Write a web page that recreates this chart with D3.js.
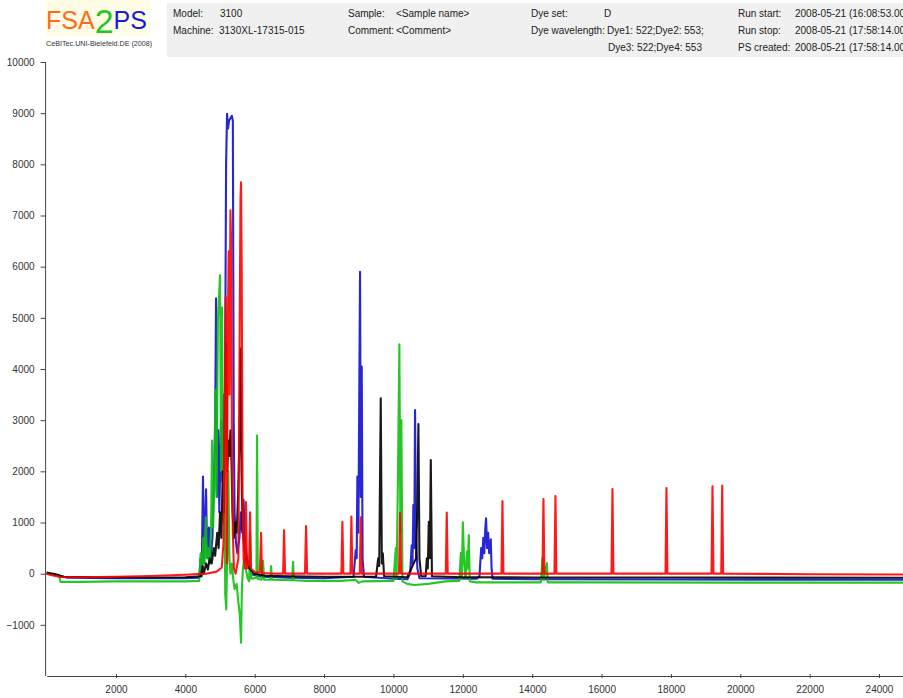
<!DOCTYPE html>
<html><head><meta charset="utf-8">
<script src="https://cdn.jsdelivr.net/npm/d3@7"></script>
<style>
body{margin:0;background:#fff}
svg{display:block}
text{font-family:"Liberation Sans",Arial,Helvetica,sans-serif}
</style>
</head><body><svg id="c" width="903" height="698"></svg>
<script>
// ---------- data ----------
const xTicks = [2000,4000,6000,8000,10000,12000,14000,16000,18000,20000,22000,24000];
const yTicks = [-1000,0,1000,2000,3000,4000,5000,6000,7000,8000,9000,10000];

const headerLabels = [
  ["Model:", "3100"], ["Machine:", "3130XL-17315-015"],
  ["Sample:", "<Sample name>"], ["Comment:", "<Comment>"],
  ["Dye set:", "D"], ["Dye wavelength:", "Dye1: 522;Dye2: 553;"], ["", "Dye3: 522;Dye4: 553"],
  ["Run start:", "2008-05-21 (16:08:53.00)"], ["Run stop:", "2008-05-21 (17:58:14.00)"], ["PS created:", "2008-05-21 (17:58:14.00)"]
];

// trace values: [scan, intensity]
const blueTrace = [[0,0],[300,-30],[600,-80],[2000,-90],[4000,-90],[4400,-80],[4440,300],[4470,-50],[4509,1900],[4540,200],[4570,1000],[4597,1650],[4630,300],[4680,900],[4720,200],[4780,700],[4830,2000],[4860,3000],[4886,5380],[4910,1500],[4950,2800],[4980,1200],[5030,3000],[5070,1800],[5110,3500],[5140,3000],[5175,8000],[5203,8990],[5230,8700],[5260,8850],[5300,8900],[5340,8950],[5370,8850],[5395,3000],[5420,1200],[5460,600],[5500,400],[5560,700],[5600,1200],[5640,800],[5680,1440],[5720,600],[5780,300],[5850,100],[5950,-20],[6200,-60],[7000,-80],[8000,-90],[8850,-60],[8913,460],[8940,300],[8960,1900],[8990,800],[9037,5900],[9060,1500],[9086,4050],[9110,300],[9150,-60],[10000,-100],[10400,-110],[10480,0],[10527,555],[10550,200],[10574,1340],[10600,500],[10623,3200],[10650,800],[10690,100],[10750,-90],[12400,-100],[12480,-50],[12530,500],[12560,300],[12592,700],[12620,400],[12650,900],[12670,1083],[12700,500],[12730,800],[12760,400],[12806,672],[12830,100],[12860,-100],[14000,-110],[18000,-115],[24700,-120]];

const greenTrace = [[0,0],[350,-20],[400,-160],[1000,-160],[2000,-150],[3000,-150],[4000,-150],[4400,-140],[4440,400],[4470,-50],[4520,700],[4550,200],[4590,1100],[4620,300],[4660,500],[4700,200],[4740,800],[4770,2600],[4800,900],[4840,1800],[4870,3600],[4900,1500],[4940,5000],[5000,5830],[5030,2000],[5060,5200],[5090,1000],[5120,2800],[5150,-400],[5180,-700],[5210,500],[5240,2000],[5270,300],[5300,0],[5340,200],[5380,-100],[5420,-300],[5480,-200],[5520,-500],[5570,-800],[5606,-1350],[5630,-300],[5660,100],[5700,300],[5740,100],[5800,-100],[5840,-150],[5868,800],[5900,-100],[6050,-80],[6068,2700],[6090,-100],[6200,-120],[6240,250],[6270,-120],[6450,-120],[6472,150],[6500,-120],[7080,-130],[7106,230],[7130,-130],[7500,-140],[8500,-140],[8900,-120],[9000,-180],[9100,-150],[10000,-140],[10068,500],[10090,-100],[10130,1900],[10171,4483],[10200,800],[10228,3004],[10260,-150],[10400,-200],[10600,-220],[11000,-200],[11500,-150],[11900,-140],[11943,410],[11970,-100],[12000,1004],[12040,200],[12080,-100],[12115,430],[12140,100],[12173,756],[12200,-150],[12400,-170],[14250,-170],[14296,306],[14330,-120],[14423,209],[14450,-170],[16000,-170],[20000,-175],[24700,-175]];

const blackTrace = [[0,20],[200,0],[500,-60],[1500,-70],[3000,-75],[4000,-70],[4450,-50],[4500,150],[4530,0],[4600,200],[4650,80],[4700,300],[4760,200],[4820,500],[4860,350],[4920,800],[4960,500],[5000,1200],[5040,700],[5080,2000],[5110,1200],[5140,3000],[5180,4500],[5210,2000],[5240,2600],[5270,2300],[5300,2800],[5330,2200],[5360,1200],[5400,700],[5440,1000],[5480,800],[5520,1500],[5560,2600],[5590,4400],[5620,2000],[5650,900],[5700,500],[5760,250],[5850,100],[6000,0],[6300,-40],[7000,-50],[8000,-60],[9500,-60],[9560,300],[9590,150],[9634,3428],[9665,200],[9693,400],[9730,-50],[10400,-70],[10650,300],[10691,1380],[10720,2925],[10750,300],[10800,-50],[10930,-50],[10962,300],[10990,100],[11020,1016],[11050,300],[11077,2222],[11110,-50],[12000,-70],[14000,-75],[18000,-75],[24700,-80]];

const redTrace = [[0,0],[150,-30],[400,-65],[1000,-70],[2000,-60],[3000,-45],[4000,-20],[4600,0],[4900,40],[5050,120],[5100,600],[5130,3000],[5165,5400],[5185,1200],[5200,200],[5220,4500],[5250,6300],[5270,3500],[5300,7100],[5320,6500],[5340,3000],[5370,800],[5400,100],[5450,0],[5530,300],[5560,4000],[5590,7300],[5606,7650],[5625,6000],[5650,1500],[5680,300],[5720,100],[5750,1400],[5775,100],[5840,200],[5866,1200],[5890,100],[6000,30],[6150,20],[6183,800],[6210,10],[6500,0],[6820,0],[6847,850],[6875,0],[7450,0],[7481,930],[7510,0],[8500,0],[8528,1016],[8555,0],[8760,0],[8788,1114],[8815,0],[9030,0],[9059,1100],[9085,0],[10160,0],[10190,1185],[10220,0],[11510,0],[11537,1193],[11565,0],[13115,0],[13143,1420],[13170,0],[14297,0],[14325,1460],[14352,0],[14643,0],[14671,1518],[14698,0],[16287,0],[16315,1655],[16342,0],[17844,0],[17872,1675],[17899,0],[19171,0],[19199,1708],[19226,0],[19451,0],[19479,1720],[19506,0],[22000,-10],[24700,-15]];

const seriesOrder = [
  {name:"blue", data: blueTrace, color:"#1010d0"},
  {name:"green", data: greenTrace, color:"#10c010"},
  {name:"black", data: blackTrace, color:"#000000"},
  {name:"red", data: redTrace, color:"#ff0000"}
];

// ---------- drawing ----------
const svg = d3.select("#c");
const x = d3.scaleLinear().domain([0,24700]).range([46.6,903.3]);
const y = d3.scaleLinear().domain([-2000,10000]).range([676,62]);

// header
svg.append("rect").attr("x",167).attr("y",3).attr("width",740).attr("height",54).attr("fill","#f0f0f0");
svg.append("rect").attr("x",46).attr("y",0).attr("width",104).attr("height",36).attr("fill","#fffde6");
const logo = svg.append("text").attr("x",46).attr("y",29).attr("font-size",25);
logo.append("tspan").attr("fill","#ff6a1a").text("FSA");
logo.append("tspan").attr("fill","#22c822").attr("font-size",34).attr("dy",4).text("2");
logo.append("tspan").attr("fill","#1a1ad8").attr("dy",-4).text("PS");
svg.append("text").attr("x",46).attr("y",46).attr("font-size",7.2).attr("fill","#333").text("CeBITec.UNI-Bielefeld.DE (2008)");

const hdrPos = [
  [173,220,17],[173,219,34],
  [348,396,17],[348,396,34],
  [531,604,17],[531,607,34],[531,608,51],
  [738,795,17],[738,795,34],[738,795,51]
];
headerLabels.forEach((d,i)=>{
  const p = hdrPos[i];
  if (d[0]) svg.append("text").attr("x",p[0]).attr("y",p[2]).attr("font-size",10).attr("fill","#222").text(d[0]);
  svg.append("text").attr("x",p[1]).attr("y",p[2]).attr("font-size",10).attr("fill","#222").text(d[1]);
});

// traces
const line = d3.line().x(d=>x(d[0])).y(d=>y(d[1]));
seriesOrder.forEach(s=>{
  svg.append("path").datum(s.data).attr("d",line)
    .attr("fill","none").attr("stroke",s.color).attr("stroke-width",2.1)
    .attr("stroke-linejoin","round").attr("stroke-opacity",0.9);
});

// axes
const xa = svg.append("g").attr("transform","translate(0,676)")
  .call(d3.axisBottom(x).tickValues(xTicks).tickFormat(d3.format("d")).tickSizeInner(2).tickSizeOuter(0).tickPadding(8));
xa.selectAll(".tick line").attr("y1",-2).attr("y2",2);
const ya = svg.append("g").attr("transform","translate(45.6,0)")
  .call(d3.axisLeft(y).tickValues(yTicks).tickFormat(d3.format("d")).tickSize(5).tickSizeOuter(0).tickPadding(6));
ya.select(".domain").attr("d","M0,62V676");
[xa,ya].forEach(g=>{
  g.selectAll("path,line").attr("stroke","#444");
  g.selectAll("text").attr("font-size",10).attr("fill","#333").attr("font-family","Liberation Sans, Arial, sans-serif");
});
</script></body></html>
